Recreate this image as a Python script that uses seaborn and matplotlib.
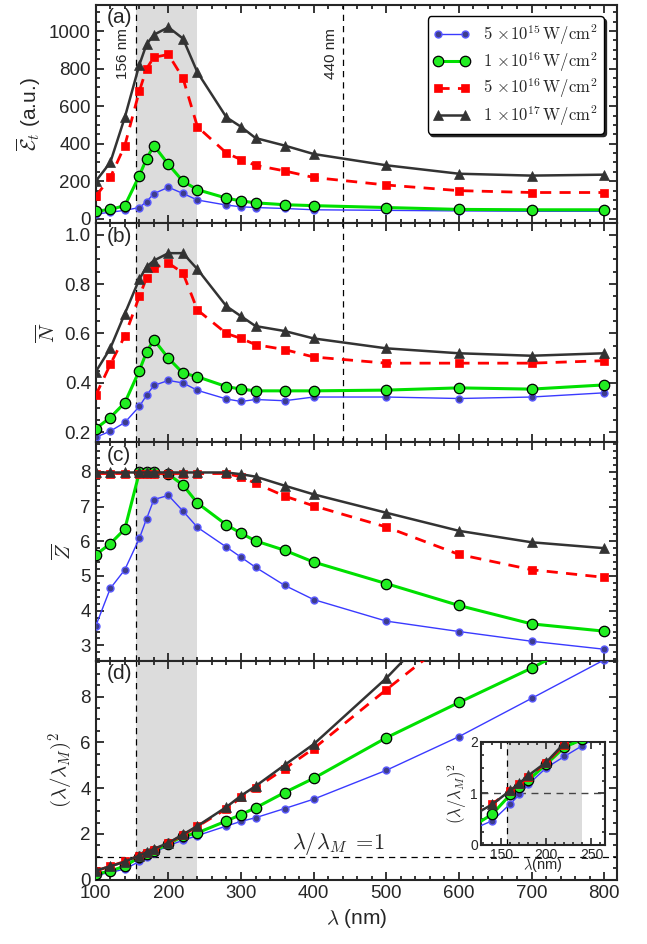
import numpy as np
import matplotlib
matplotlib.use('Agg')
import matplotlib.pyplot as plt
from matplotlib.ticker import MultipleLocator
import seaborn as sns

# wavelengths (nm)
wl = [100, 120, 140, 160, 170, 180, 200, 220, 240, 280, 300, 320, 360, 400, 500, 600, 700, 800]

# (a) mean energy
E_5e15 = [25, 35, 45, 60, 92, 134, 168, 135, 100, 73, 64, 60, 55, 48, 45, 42, 40, 40]
E_1e16 = [40, 50, 70, 230, 320, 390, 290, 200, 155, 110, 95, 85, 75, 70, 60, 50, 48, 48]
E_5e16 = [120, 220, 390, 680, 800, 860, 875, 750, 490, 350, 315, 285, 255, 220, 180, 150, 140, 140]
E_1e17 = [200, 300, 540, 820, 930, 980, 1020, 960, 780, 540, 490, 430, 390, 345, 285, 240, 230, 235]

# (b) mean N
N_5e15 = [0.18, 0.205, 0.24, 0.305, 0.35, 0.39, 0.41, 0.40, 0.37, 0.335, 0.325, 0.333, 0.328, 0.343, 0.343, 0.337, 0.343, 0.36]
N_1e16 = [0.215, 0.26, 0.32, 0.45, 0.525, 0.575, 0.50, 0.44, 0.425, 0.385, 0.375, 0.368, 0.368, 0.368, 0.371, 0.38, 0.375, 0.392]
N_5e16 = [0.35, 0.475, 0.59, 0.75, 0.825, 0.865, 0.885, 0.845, 0.695, 0.60, 0.58, 0.555, 0.535, 0.505, 0.48, 0.48, 0.48, 0.49]
N_1e17 = [0.445, 0.54, 0.68, 0.82, 0.87, 0.895, 0.925, 0.925, 0.86, 0.71, 0.67, 0.63, 0.61, 0.58, 0.54, 0.52, 0.51, 0.52]

# (c) mean Z
Z_5e15 = [3.56, 4.64, 5.18, 6.08, 6.65, 7.2, 7.32, 6.87, 6.40, 5.83, 5.54, 5.25, 4.73, 4.32, 3.70, 3.40, 3.12, 2.89]
Z_1e16 = [5.61, 5.93, 6.35, 7.98, 7.98, 7.98, 7.93, 7.62, 7.10, 6.47, 6.23, 6.01, 5.74, 5.40, 4.78, 4.15, 3.62, 3.41]
Z_5e16 = [7.95, 7.95, 7.95, 7.95, 7.95, 7.95, 7.95, 7.95, 7.95, 7.95, 7.85, 7.67, 7.30, 7.02, 6.41, 5.62, 5.18, 4.96]
Z_1e17 = [7.98, 7.98, 7.98, 7.98, 7.98, 7.98, 7.98, 7.98, 7.98, 7.98, 7.93, 7.86, 7.60, 7.35, 6.82, 6.30, 5.97, 5.80]

# (d) (lambda/lambda_M)^2
R_5e15 = [0.2, 0.32, 0.47, 0.8, 0.98, 1.18, 1.5, 1.72, 1.93, 2.35, 2.55, 2.71, 3.11, 3.52, 4.78, 6.25, 7.92, 9.6]
R_1e16 = [0.25, 0.38, 0.6, 0.98, 1.12, 1.26, 1.57, 1.9, 2.05, 2.57, 2.85, 3.14, 3.81, 4.43, 6.2, 7.74, 9.24, 10.9]
R_5e16 = [0.38, 0.6, 0.8, 1.05, 1.18, 1.32, 1.6, 1.95, 2.33, 3.1, 3.6, 4.0, 4.85, 5.73, 8.3, 10.8, 13.5, 16.5]
R_1e17 = [0.4, 0.59, 0.79, 1.06, 1.2, 1.35, 1.61, 1.98, 2.35, 3.18, 3.67, 4.09, 5.01, 5.92, 8.8, 12.1, 15.6, 19.5]

labels = [r'$5\,\times\!10^{15}\,\mathrm{W/cm^2}$', r'$1\,\times\!10^{16}\,\mathrm{W/cm^2}$',
          r'$5\,\times\!10^{16}\,\mathrm{W/cm^2}$', r'$1\,\times\!10^{17}\,\mathrm{W/cm^2}$']

sns.set_style('ticks')
plt.rcParams['font.family'] = ['Liberation Sans', 'DejaVu Sans']
plt.rcParams['mathtext.fontset'] = 'cm'
plt.rcParams['xtick.direction'] = 'in'
plt.rcParams['ytick.direction'] = 'in'

styles = [
    dict(color='#3a3aff', lw=1.0, marker='o', ms=5, mfc='#3d3d8c', mec='#5a5aff', mew=1.0, ls='-'),
    dict(color='#00e000', lw=2.2, marker='o', ms=7.5, mfc='#22ee22', mec='black', mew=0.9, ls='-'),
    dict(color='#ff0000', lw=2.0, marker='s', ms=6, mfc='#ff0000', mec='#ff0000', mew=0.5, ls=(0, (4, 3))),
    dict(color='#333333', lw=1.8, marker='^', ms=7.5, mfc='#333333', mec='#333333', mew=0.5, ls='-'),
]


def draw_series(ax, series, with_label=False):
    for ys, st, lab in zip(series, styles, labels):
        sns.lineplot(x=wl, y=ys, ax=ax, color=st['color'], linewidth=st['lw'], linestyle=st['ls'],
                     marker=st['marker'], markersize=st['ms'], markerfacecolor=st['mfc'],
                     markeredgecolor=st['mec'], markeredgewidth=st['mew'],
                     label=lab if with_label else None, legend=False, zorder=3)


def style_axis(ax, xminor=20):
    ax.tick_params(which='both', direction='in', top=True, right=True, labelsize=13.5, width=1.3)
    ax.tick_params(which='major', length=6)
    ax.tick_params(which='minor', length=3)
    ax.xaxis.set_minor_locator(MultipleLocator(xminor))
    for s in ax.spines.values():
        s.set_linewidth(1.5)


fig, axes = plt.subplots(4, 1, figsize=(6.47, 9.44), dpi=100, sharex=True)
fig.subplots_adjust(left=0.148, right=0.954, top=0.995, bottom=0.068, hspace=0)

panels = [
    ([E_5e15, E_1e16, E_5e16, E_1e17], (-25, 1140), 200, 50, r'$\overline{\mathcal{E}}_t$ (a.u.)'),
    ([N_5e15, N_1e16, N_5e16, N_1e17], (0.16, 1.045), 0.2, 0.05, r'$\overline{N}$'),
    ([Z_5e15, Z_1e16, Z_5e16, Z_1e17], (2.55, 8.85), 1, 0.2, r'$\overline{Z}$'),
    ([R_5e15, R_1e16, R_5e16, R_1e17], (0, 9.55), 2, 0.5, r'$(\lambda/\lambda_M)^2$'),
]
tags = ['(a)', '(b)', '(c)', '(d)']

for i, (ax, (series, ylim, major, minor, ylab)) in enumerate(zip(axes, panels)):
    ax.axvspan(156, 240, color='#dcdcdc', lw=0, zorder=0)
    ax.axvline(156, color='black', lw=0.9, ls=(0, (5, 4)), zorder=1)
    if i < 2:
        ax.axvline(440, color='black', lw=0.9, ls=(0, (5, 4)), zorder=1)
    draw_series(ax, series, with_label=(i == 0))
    ax.set_ylim(*ylim)
    ax.set_xlim(100, 818)
    ax.yaxis.set_major_locator(MultipleLocator(major))
    ax.yaxis.set_minor_locator(MultipleLocator(minor))
    ax.xaxis.set_major_locator(MultipleLocator(100))
    style_axis(ax)
    ax.set_ylabel(ylab, fontsize=15)
    ax.text(0.022, 0.985, tags[i], transform=ax.transAxes, fontsize=15, va='top', ha='left')

axes[1].set_yticks([0.2, 0.4, 0.6, 0.8, 1.0])
axes[1].set_yticklabels(['0.2', '0.4', '0.6', '0.8', '1.0'])
axes[2].set_yticks([3, 4, 5, 6, 7, 8])
axes[3].set_yticks([0, 2, 4, 6, 8])
axes[0].set_yticks([0, 200, 400, 600, 800, 1000])

axes[0].text(138, 1015, '156 nm', rotation=90, fontsize=11, ha='center', va='top')
axes[0].text(424, 1015, '440 nm', rotation=90, fontsize=11, ha='center', va='top')

leg = axes[0].legend(loc='upper right', numpoints=2, fontsize=12, frameon=True, fancybox=True,
                     handlelength=2.2, handletextpad=0.8, borderpad=0.35, labelspacing=0.18,
                     shadow={'color': '0.15', 'alpha': 1.0}, bbox_to_anchor=(0.99, 0.985))
leg.get_frame().set_edgecolor('black')
leg.get_frame().set_linewidth(1.0)
leg.get_frame().set_alpha(1.0)

ax_d = axes[3]
ax_d.axhline(1, color='black', lw=0.9, ls=(0, (5, 4)), zorder=1)
ax_d.text(370, 1.35, r'$\lambda/\lambda_M\ =\!1$', fontsize=16)
ax_d.set_xlabel(r'$\lambda$ (nm)', fontsize=15)

# inset
ins = fig.add_axes([0.743, 0.105, 0.192, 0.109])
ins.axvspan(156, 240, color='#dcdcdc', lw=0, zorder=0)
ins.axvline(156, color='black', lw=0.9, ls=(0, (5, 4)), zorder=1)
ins.axhline(1, color='#444444', lw=1.0, ls=(0, (5, 4)), zorder=1)
draw_series(ins, [R_5e15, R_1e16, R_5e16, R_1e17])
ins.set_xlim(127, 265)
ins.set_ylim(0, 2)
ins.set_xticks([150, 200, 250])
ins.set_yticks([0, 1, 2])
ins.xaxis.set_minor_locator(MultipleLocator(10))
ins.yaxis.set_minor_locator(MultipleLocator(0.25))
ins.tick_params(which='both', direction='in', top=True, right=True, labelsize=10, width=1.2, pad=2)
ins.tick_params(which='major', length=5)
ins.tick_params(which='minor', length=2.5)
for s in ins.spines.values():
    s.set_linewidth(1.5)
ins.set_ylabel(r'$(\lambda/\lambda_M)^2$', fontsize=12, labelpad=1)
ins.set_xlabel(r'$\lambda$(nm)', fontsize=10.5, labelpad=-4)

fig.savefig('out.png', dpi=100)
